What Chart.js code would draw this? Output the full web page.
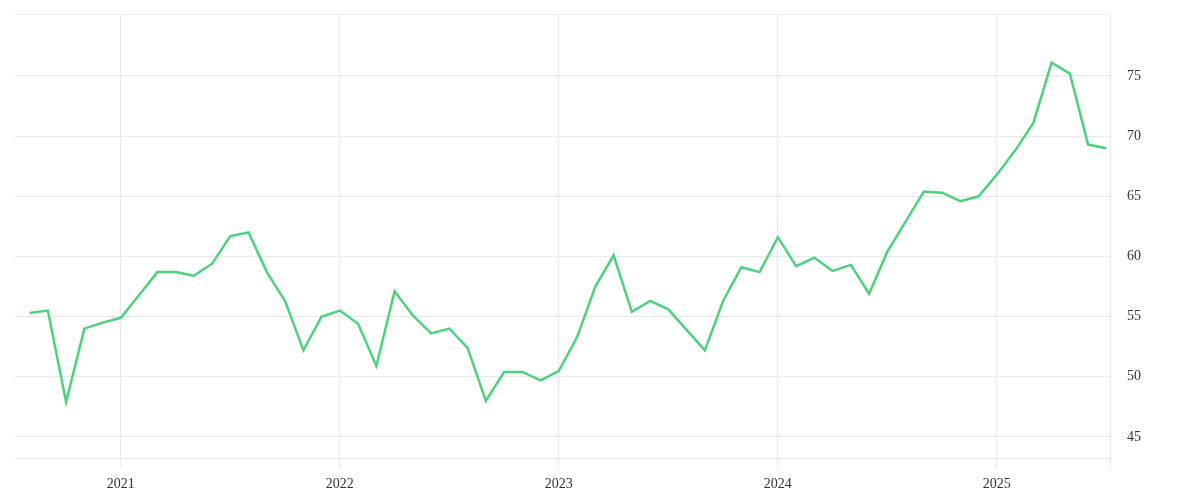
<!DOCTYPE html>
<html>
<head>
<meta charset="utf-8">
<script src="https://cdn.jsdelivr.net/npm/chart.js@4"></script>
<style>
  html, body { margin: 0; padding: 0; background: #fff; }
  #wrap { width: 1200px; height: 500px; position: relative; }
</style>
</head>
<body>
<div id="wrap"><canvas id="chart"></canvas></div>
<script>
// monthly readings, Aug 2020 .. Jul 2025
const months = [
  '2020-08','2020-09','2020-10','2020-11','2020-12',
  '2021-01','2021-02','2021-03','2021-04','2021-05','2021-06','2021-07','2021-08','2021-09','2021-10','2021-11','2021-12',
  '2022-01','2022-02','2022-03','2022-04','2022-05','2022-06','2022-07','2022-08','2022-09','2022-10','2022-11','2022-12',
  '2023-01','2023-02','2023-03','2023-04','2023-05','2023-06','2023-07','2023-08','2023-09','2023-10','2023-11','2023-12',
  '2024-01','2024-02','2024-03','2024-04','2024-05','2024-06','2024-07','2024-08','2024-09','2024-10','2024-11','2024-12',
  '2025-01','2025-02','2025-03','2025-04','2025-05','2025-06','2025-07'
];
const values = [
  55.3, 55.5, 47.9, 54.0, 54.5,
  54.9, 56.8, 58.7, 58.7, 58.4, 59.4, 61.7, 62.0, 58.7, 56.3, 52.2, 55.0,
  55.5, 54.4, 50.9, 57.1, 55.1, 53.6, 54.0, 52.4, 48.0, 50.4, 50.4, 49.7,
  50.5, 53.3, 57.5, 60.1, 55.4, 56.3, 55.6, 53.9, 52.2, 56.3, 59.1, 58.7,
  61.6, 59.2, 59.9, 58.8, 59.3, 56.9, 60.4, 62.9, 65.4, 65.3, 64.6, 65.0,
  66.8, 68.8, 71.1, 76.1, 75.2, 69.3, 69.0
];
const yearLabels = ['2021', '2022', '2023', '2024', '2025'];
const yTicks = [45, 50, 55, 60, 65, 70, 75];

// months counted from Jan 2020
const monthIndex = m => {
  const [y, mo] = m.split('-').map(Number);
  return (y - 2020) * 12 + (mo - 1);
};
const points = months.map((m, i) => ({ x: monthIndex(m), y: values[i] }));
const yearPos = yearLabels.map(y => (Number(y) - 2020) * 12);

const gridColor = '#e9e9e9';
const font = { family: '"Liberation Serif", serif', size: 14 };

const noPad = s => {
  s.paddingTop = 0; s.paddingBottom = 0; s.paddingLeft = 0; s.paddingRight = 0;
};

new Chart(document.getElementById('chart'), {
  type: 'line',
  data: {
    datasets: [{
      data: points,
      borderColor: '#4cd27e',
      borderWidth: 2.5,
      pointRadius: 0,
      tension: 0,
      fill: false
    }]
  },
  options: {
    responsive: true,
    maintainAspectRatio: false,
    animation: false,
    devicePixelRatio: 1,
    layout: { padding: { left: 15, top: 14, right: 0, bottom: 0 } },
    plugins: { legend: { display: false }, tooltip: { enabled: false } },
    scales: {
      x: {
        type: 'linear',
        min: 6.2,
        max: 66.2,
        border: { display: false },
        grid: { color: gridColor, lineWidth: 1, tickLength: 10 },
        afterBuildTicks: s => {
          s.ticks = yearPos.concat([s.max]).map(v => ({ value: v }));
        },
        afterFit: s => { s.height = 42; noPad(s); },
        ticks: {
          autoSkip: false,
          maxRotation: 0,
          padding: 8,
          color: '#333',
          font: font,
          callback: v => {
            const i = yearPos.indexOf(v);
            return i >= 0 ? yearLabels[i] : '';
          }
        }
      },
      y: {
        position: 'right',
        min: 43.25,
        max: 80.15,
        border: { display: false },
        grid: { color: gridColor, lineWidth: 1, drawTicks: false },
        afterBuildTicks: s => {
          s.ticks = [s.min].concat(yTicks, [s.max]).map(v => ({ value: v }));
        },
        afterFit: s => { s.width = 90; noPad(s); },
        ticks: {
          padding: 17,
          color: '#333',
          font: font,
          callback: v => yTicks.includes(v) ? String(v) : ''
        }
      }
    }
  }
});
</script>
</body>
</html>
